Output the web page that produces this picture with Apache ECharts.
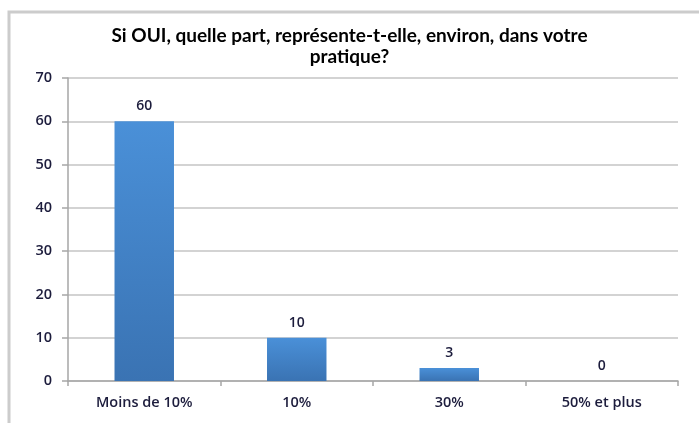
<!DOCTYPE html>
<html>
<head>
<meta charset="utf-8">
<script src="https://cdn.jsdelivr.net/npm/echarts@6/dist/echarts.min.js"></script>
<style>
  html, body { margin: 0; padding: 0; background: #fff; }
  #chart { width: 699px; height: 423px; }
</style>
</head>
<body>
<div id="chart"></div>
<script>
const categories = ["Moins de 10%", "10%", "30%", "50% et plus"];
const values = [60, 10, 3, 0];
const yTicks = { min: 0, max: 70, interval: 10 };

const textColor = "#1c1c3c";
const labelFont = "Open Sans";
const chart = echarts.init(document.getElementById("chart"));
chart.setOption({
  animation: false,
  textStyle: { fontFamily: labelFont },
  title: {
    text: "Si OUI, quelle part, représente-t-elle, environ, dans votre\npratique?",
    left: "center",
    top: 25,
    padding: 0,
    textStyle: {
      fontFamily: "Lato",
      fontSize: 19,
      fontWeight: "bold",
      color: "#000",
      lineHeight: 21,
    },
  },
  graphic: [
    // cadre gris en haut et à gauche
    {
      type: "polyline",
      shape: { points: [[9, 423], [9, 12], [699, 12]] },
      style: { stroke: "#cccccc", lineWidth: 3, fill: null },
      silent: true,
    },
  ],
  grid: { left: 68, right: 21, top: 78, bottom: 42 },
  xAxis: {
    type: "category",
    data: categories,
    axisLine: { lineStyle: { color: "#a6a6a6", width: 1.5 } },
    axisTick: { show: true, length: 5, lineStyle: { color: "#a6a6a6", width: 1.5 } },
    axisLabel: { color: textColor, fontSize: 14.5, fontWeight: 600, margin: 14 },
  },
  yAxis: {
    type: "value",
    min: yTicks.min,
    max: yTicks.max,
    interval: yTicks.interval,
    axisLine: { show: true, lineStyle: { color: "#a6a6a6", width: 1.5 } },
    axisTick: { show: true, length: 6, lineStyle: { color: "#a6a6a6", width: 1.5 } },
    axisLabel: { color: textColor, fontSize: 14.5, fontWeight: 600, margin: 16 },
    splitLine: { lineStyle: { color: "#c4c4c4", width: 1.5 } },
  },
  series: [
    {
      type: "bar",
      data: values,
      barWidth: "39%",
      itemStyle: {
        color: new echarts.graphic.LinearGradient(0, 0, 0, 1, [
          { offset: 0, color: "#4a90d8" },
          { offset: 1, color: "#3a73b3" },
        ]),
      },
      label: {
        show: true,
        position: "top",
        distance: 8,
        color: textColor,
        fontSize: 14,
        fontWeight: 600,
      },
    },
  ],
});
</script>
</body>
</html>
